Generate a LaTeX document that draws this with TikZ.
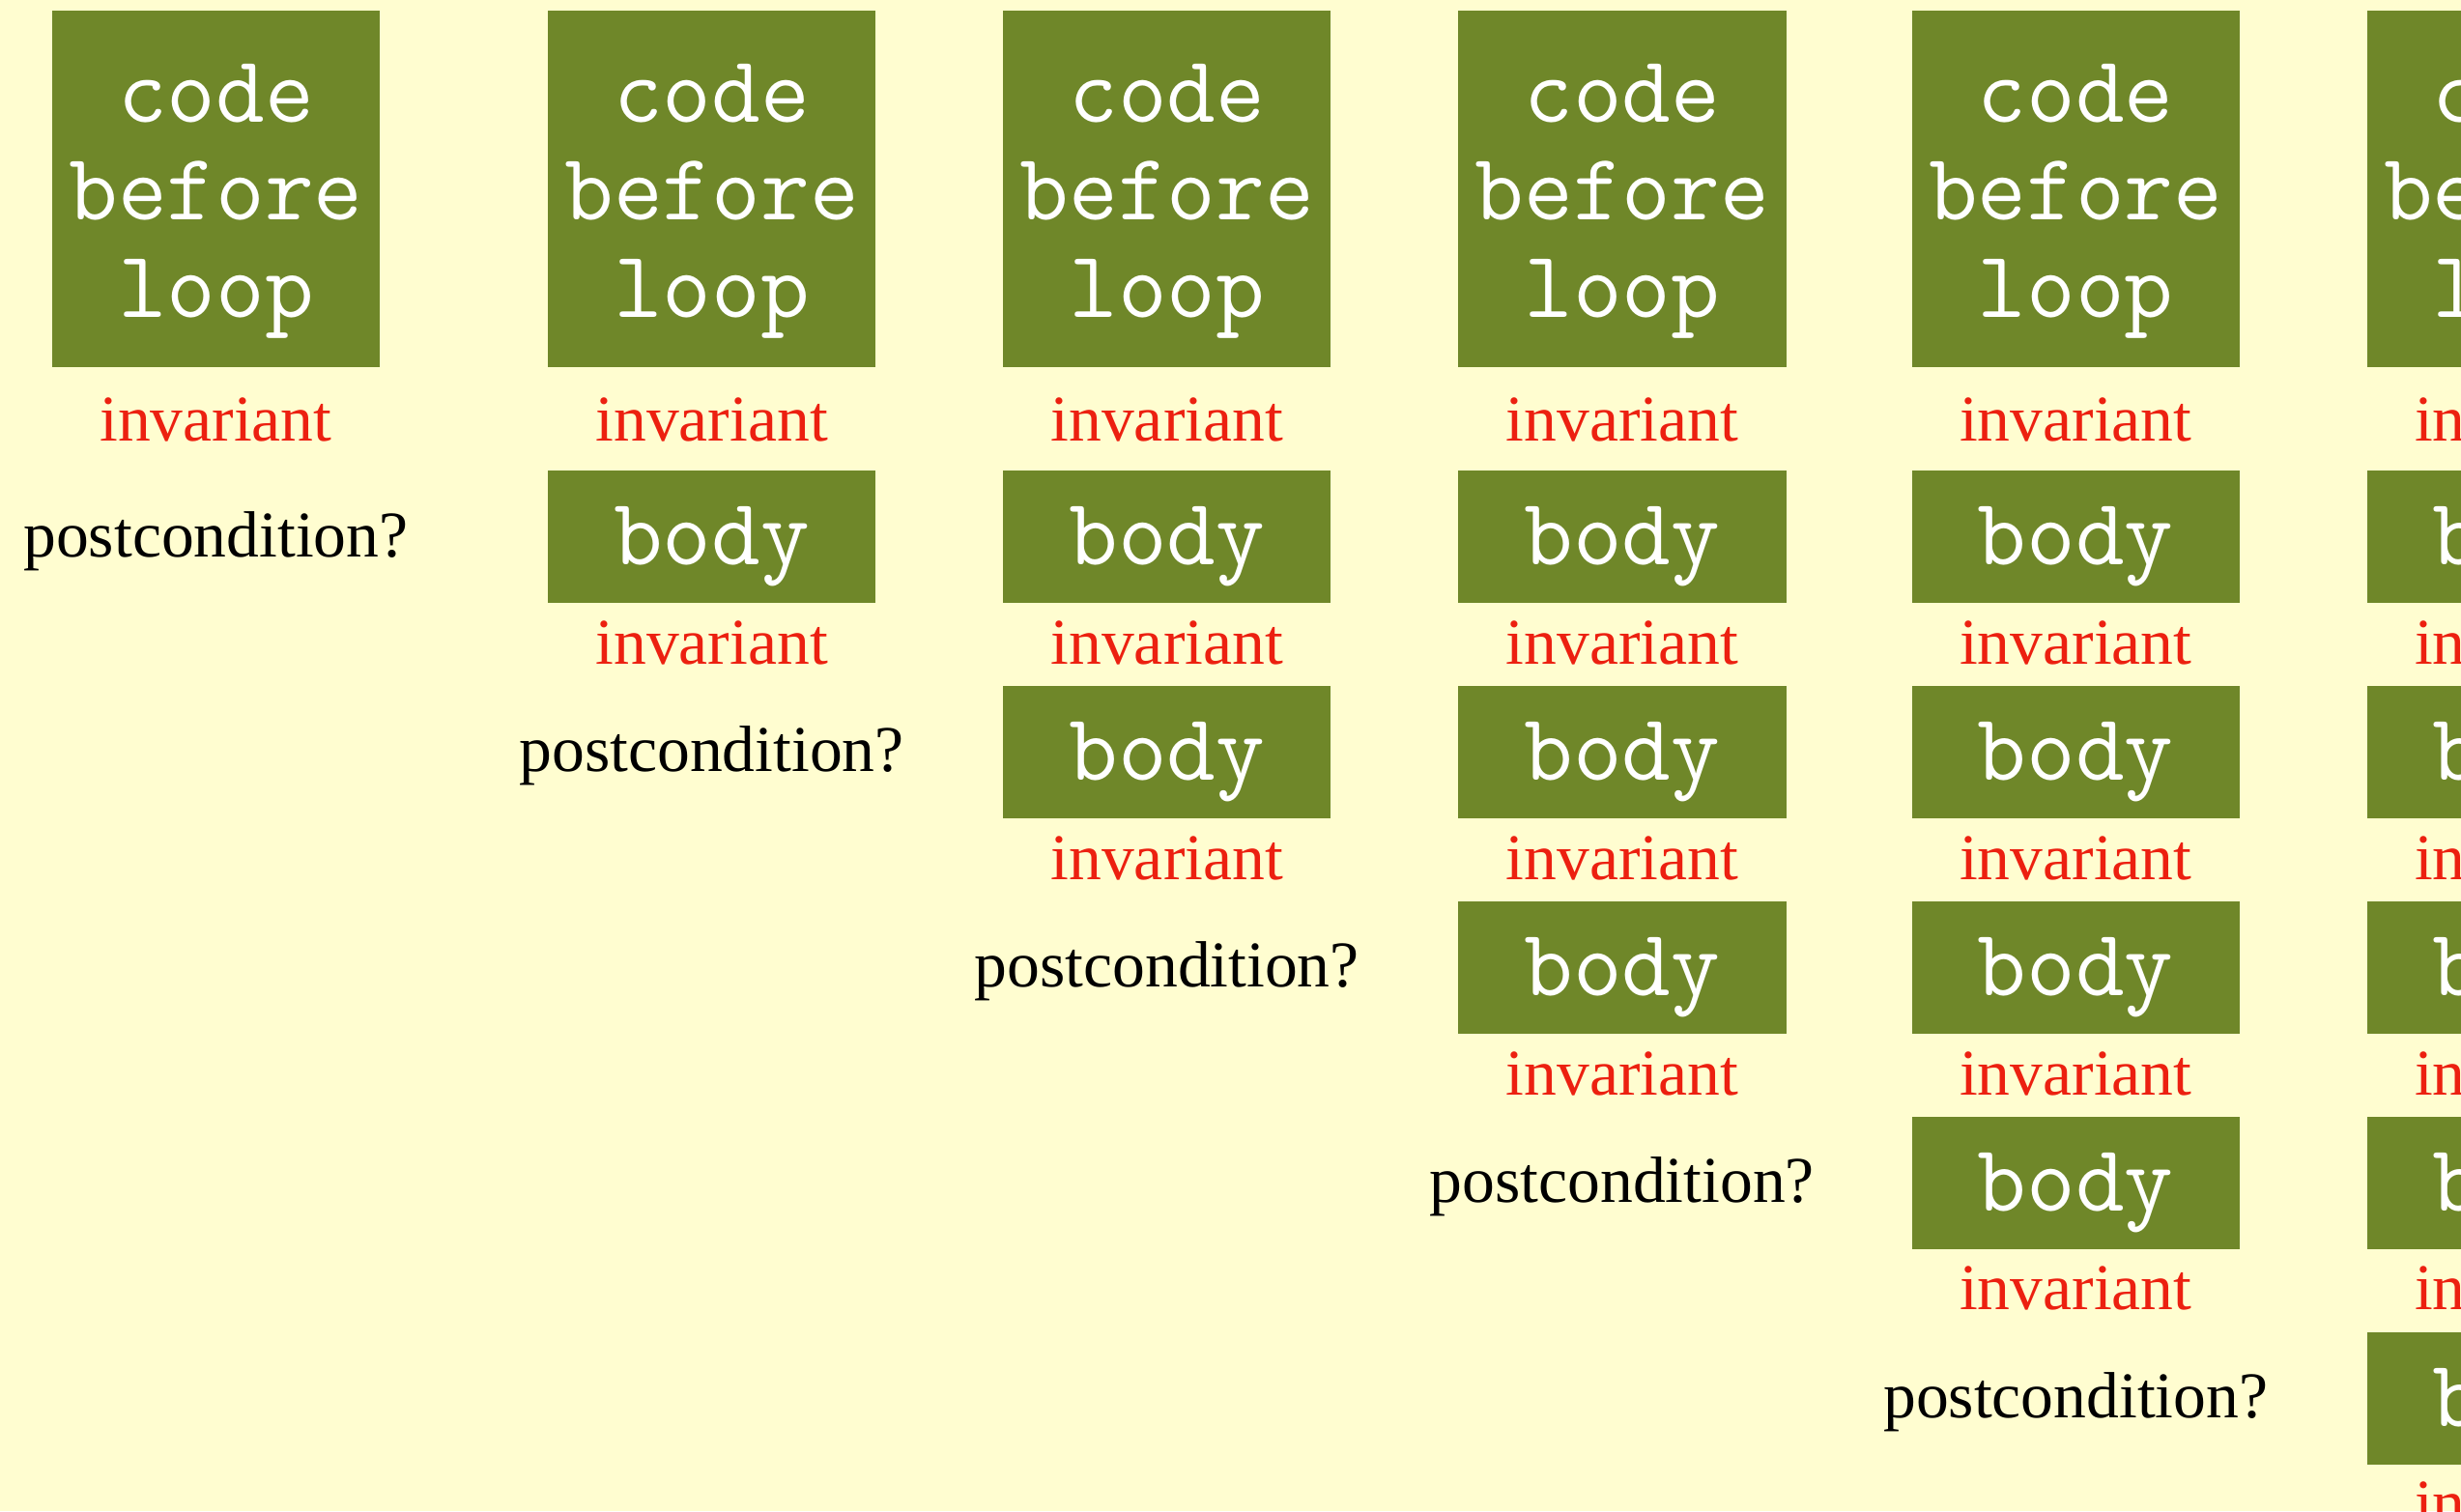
\documentclass[tikz,border=0pt]{standalone}
\usepackage{fontspec}
\setmainfont{Liberation Serif}

\definecolor{paper}{RGB}{255,253,208}
\definecolor{loopgreen}{RGB}{111,135,41}
\definecolor{invred}{RGB}{236,32,16}

\tikzset{
  codefont/.style={font=\ttfamily\fontsize{24.6}{25.2}\selectfont},
  codebox/.style={fill=loopgreen, draw=none, inner sep=0pt,
    minimum width=84.87pt, minimum height=92.27pt},
  codeline/.style={codefont, anchor=base, inner sep=0pt, text=white},
  bodybox/.style={codefont, fill=loopgreen, draw=none, inner sep=0pt,
    minimum width=84.87pt, minimum height=34.11pt,
    text height=14.6pt, text depth=0pt, text=white},
  invlabel/.style={anchor=base, inner sep=0pt, text=invred,
    font=\fontsize{16.9}{20}\selectfont},
  postlabel/.style={anchor=base, inner sep=0pt, text=black,
    font=\fontsize{16.9}{20}\selectfont}
}

\begin{document}
\begin{tikzpicture}[x=0.4061pt, y=-0.4061pt]
  \fill[paper] (0,0) rectangle (1568,963);
  \useasboundingbox (0,0) rectangle (1568,963);
  \clip (0,0) rectangle (1568,963);

  % one column per number of loop iterations
  \foreach \c/\L in {1/33, 2/349, 3/639, 4/929, 5/1218, 6/1508} {
    \pgfmathsetmacro{\cx}{\L+104.5}
    \node[codebox] (code\c) at (\cx,120.4) {};
    \node[codeline] (codeA\c) at (\cx,78) {code};
    \node[codeline] (codeB\c) at (\cx,140.2) {before};
    \node[codeline] (codeC\c) at (\cx,202.1) {loop};
    \node[invlabel] (inv\c-0) at (\cx,281) {invariant};
    \ifnum\c>1
      \pgfmathtruncatemacro{\nb}{\c-1}
      \foreach \j in {1,...,\nb} {
        \pgfmathsetmacro{\btop}{300+137.25*(\j-1)}
        \node[bodybox] (body\c-\j) at (\cx,\btop+42) {body};
        \node[invlabel] (inv\c-\j) at (\cx,\btop+123) {invariant};
      }
    \fi
    \ifnum\c=1
      \node[postlabel] (post\c) at (\cx,355) {postcondition?};
    \else
      \ifnum\c<6
        \pgfmathsetmacro{\py}{300+137.25*(\c-2)+191.5}
        \node[postlabel] (post\c) at (\cx,\py) {postcondition?};
      \fi
    \fi
  }
\end{tikzpicture}
\end{document}
